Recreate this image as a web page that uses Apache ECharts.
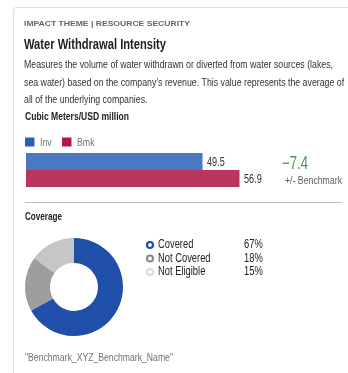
<!DOCTYPE html>
<html>
<head>
<meta charset="utf-8">
<script src="https://cdn.jsdelivr.net/npm/echarts@6/dist/echarts.min.js"></script>
<style>
  html, body { margin: 0; padding: 0; background: #fff; }
  #chart { width: 348px; height: 373px; }
</style>
</head>
<body>
<div id="chart"></div>
<script>
// Intensity values, cubic meters per USD million of revenue
var seriesNames = ['Inv', 'Bmk'];
var intensityValues = [49.5, 56.9];
var barColors = ['#4a78c3', '#b8365b'];
var legendColors = ['#2b5db4', '#b3164a'];

// Portfolio coverage split, percent
var coverageNames = ['Covered', 'Not Covered', 'Not Eligible'];
var coverageValues = [67, 18, 15];
var coverageColors = ['#1f4fa8', '#9d9d9d', '#c6c6c6'];
var coverageMarkers = ['#1f4fa8', '#8a8a8a', '#dcdcdc'];

var FONT = '"Liberation Sans", Arial, sans-serif';
var BAR_WIDTH = 17;

var diff = intensityValues[0] - intensityValues[1];
var diffText = (diff < 0 ? '\u2212' : '+') + Math.abs(diff).toFixed(1);

// Condensed lettering: measure the text in a regular face and squeeze it horizontally
var measureCtx = document.createElement('canvas').getContext('2d');
function squeeze(text, size, weight, width) {
  measureCtx.font = (weight || 'normal') + ' ' + size + 'px ' + FONT;
  return width / measureCtx.measureText(text).width;
}
function label(text, x, y, size, opts) {
  opts = opts || {};
  var firstLine = text.split('\n')[0];
  var sx = opts.width ? squeeze(firstLine, size, opts.weight, opts.width) : (opts.scale || 0.8);
  return {
    type: 'text', x: x, y: y, scaleX: sx, silent: true,
    style: {
      text: text, fontFamily: FONT, fontSize: size, fontWeight: opts.weight || 'normal',
      fill: opts.color || '#333', verticalAlign: opts.valign || 'middle',
      lineHeight: opts.lineHeight
    }
  };
}

var chart = echarts.init(document.getElementById('chart'), null, { renderer: 'canvas' });

var barSeries = seriesNames.map(function (name, i) {
  return {
    name: name,
    type: 'bar',
    data: [intensityValues[i]],
    barWidth: BAR_WIDTH,
    barGap: '0%',
    itemStyle: { color: barColors[i] },
    silent: true
  };
});

var staticGraphics = [
  {
    type: 'rect', z: -1, silent: true,
    shape: { x: 13.5, y: 7.5, width: 360, height: 380, r: 3 },
    style: { fill: '#fff', stroke: '#dedede', lineWidth: 1.2 }
  },
  label('IMPACT THEME | RESOURCE SECURITY', 24, 24, 7.5, { weight: 'bold', color: '#666', width: 166 }),
  label('Water Withdrawal Intensity', 24, 45, 15, { weight: 'bold', color: '#1e1e1e', width: 142 }),
  label('Measures the volume of water withdrawn or diverted from water sources (lakes,\nsea water) based on the company\u2019s revenue. This value represents the average of\nall of the underlying companies.',
    24, 56.5, 11.5, { color: '#333', width: 309, valign: 'top', lineHeight: 17.5 }),
  label('Cubic Meters/USD million', 25, 117, 11, { weight: 'bold', color: '#1e1e1e', width: 104 }),
  label(diffText, 282, 164, 18, { color: '#3f9a4c', width: 26 }),
  label('+/- Benchmark', 285, 181, 11, { color: '#5e5e5e', width: 57 }),
  {
    type: 'line', silent: true,
    shape: { x1: 25, y1: 202.5, x2: 342, y2: 202.5 },
    style: { stroke: '#bdbdbd', lineWidth: 1 }
  },
  label('Coverage', 25, 217, 11, { weight: 'bold', color: '#1e1e1e', width: 37 }),
  label('"Benchmark_XYZ_Benchmark_Name"', 25, 358, 11, { color: '#707070', width: 148 })
];

// Bar legend
var legendX = [25, 62];
seriesNames.forEach(function (name, i) {
  staticGraphics.push({
    type: 'rect', silent: true,
    shape: { x: legendX[i], y: 137.5, width: 9.5, height: 9 },
    style: { fill: legendColors[i] }
  });
  staticGraphics.push(label(name, legendX[i] + 15, 142.5, 11, { color: '#707070', scale: 0.8 }));
});

// Coverage legend
var legendRows = [245, 258.5, 272];
coverageNames.forEach(function (name, i) {
  staticGraphics.push({
    type: 'circle', silent: true,
    shape: { cx: 150, cy: legendRows[i], r: 3 },
    style: { fill: '#fff', stroke: coverageMarkers[i], lineWidth: 2.2 }
  });
  staticGraphics.push(label(name, 158, legendRows[i], 12, { color: '#222', scale: 0.78 }));
  staticGraphics.push(label(coverageValues[i] + '%', 244, legendRows[i], 12, { color: '#222', scale: 0.78 }));
});

var option = {
  animation: false,
  grid: { left: 26, top: 153, width: 250, height: 34, containLabel: false },
  xAxis: { type: 'value', min: 14.2, max: 64.2, show: false },
  yAxis: { type: 'category', data: ['Withdrawal'], inverse: true, show: false },
  series: barSeries.concat([{
    name: 'Coverage',
    type: 'pie',
    center: [74, 287],
    radius: [24, 49],
    startAngle: 90,
    clockwise: true,
    label: { show: false },
    labelLine: { show: false },
    silent: true,
    data: coverageNames.map(function (n, i) {
      return { name: n, value: coverageValues[i], itemStyle: { color: coverageColors[i] } };
    })
  }]),
  graphic: staticGraphics
};

chart.setOption(option);

// Value labels placed at the end of each bar through the axis scale
var valueLabels = intensityValues.map(function (v, i) {
  var p = chart.convertToPixel({ gridIndex: 0 }, [v, 0]);
  var y = p[1] + (i - 0.5) * BAR_WIDTH + 1;
  return label(v.toFixed(1), p[0] + 4.5, y, 12, { color: '#333', scale: 0.76 });
});
chart.setOption({ graphic: staticGraphics.concat(valueLabels) });
</script>
</body>
</html>
